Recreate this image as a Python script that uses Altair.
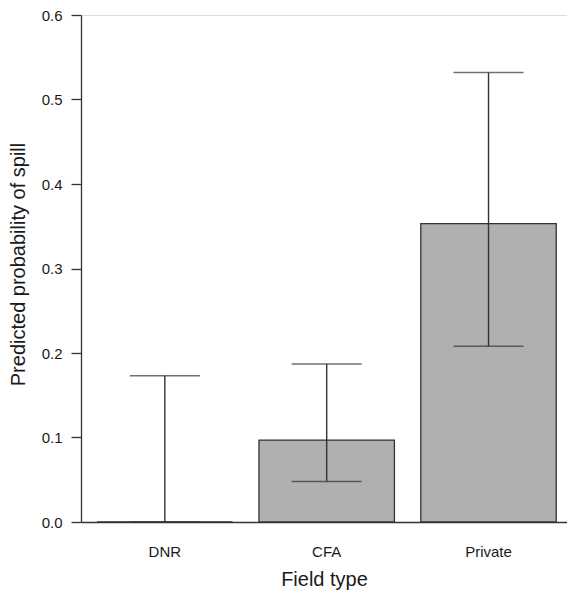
import altair as alt
import pandas as pd

categories = ["DNR", "CFA", "Private"]
estimates = [0.0, 0.097, 0.353]
lower = [0.0, 0.048, 0.208]
upper = [0.173, 0.187, 0.532]
y_ticks = [0.0, 0.1, 0.2, 0.3, 0.4, 0.5, 0.6]

df = pd.DataFrame({"type": categories, "est": estimates, "lo": lower, "hi": upper})

FONT = "Liberation Sans"
INK = "#333333"
TXT = "#1a1a1a"

xscale = alt.Scale(domain=categories, paddingInner=0.163, paddingOuter=0.083, align=0.6)
yscale = alt.Scale(domain=[0, 0.6], nice=False, zero=True)

xenc = alt.X("type:N", scale=xscale, sort=categories,
             axis=alt.Axis(title="Field type", labelAngle=0, ticks=False,
                           labelPadding=22, titlePadding=10, labelFontSize=15,
                           titleFontSize=20, titleFontWeight="normal",
                           domainColor=INK, domainWidth=1.3,
                           labelColor=TXT, titleColor=TXT,
                           labelFont=FONT, titleFont=FONT))

yaxis = alt.Axis(title="Predicted probability of spill", values=y_ticks, format=".1f",
                 grid=False, tickSize=10, tickColor=INK, tickWidth=1.3,
                 domainColor=INK, domainWidth=1.3, labelPadding=9,
                 labelFontSize=15, titleFontSize=20, titleFontWeight="normal",
                 titleX=-53, titleY=249, titleAngle=270, titleBaseline="bottom",
                 titleAlign="center",
                 labelColor=TXT, titleColor=TXT,
                 labelFont=FONT, titleFont=FONT)

base = alt.Chart(df)

bars = base.mark_bar(fill="#b0b0b0", stroke=INK, strokeWidth=1.3).encode(
    x=xenc,
    y=alt.Y("est:Q", scale=yscale, axis=yaxis),
)

rules = base.mark_rule(color=INK, strokeWidth=1.4).encode(
    x=alt.X("type:N", scale=xscale, sort=categories),
    y=alt.Y("lo:Q", scale=yscale),
    y2="hi:Q",
)

caps_hi = base.mark_tick(color=INK, thickness=1.4, size=70, orient="horizontal").encode(
    x=alt.X("type:N", scale=xscale, sort=categories),
    y=alt.Y("hi:Q", scale=yscale),
)
caps_lo = base.mark_tick(color=INK, thickness=1.4, size=70, orient="horizontal").encode(
    x=alt.X("type:N", scale=xscale, sort=categories),
    y=alt.Y("lo:Q", scale=yscale),
)

chart = alt.layer(bars, rules, caps_hi, caps_lo).properties(
    width=486, height=507,
    autosize=alt.AutoSizeParams(type="none"),
    padding={"left": 73, "top": 7, "right": 0, "bottom": 70},
).configure_view(stroke=None).configure(background="white")

chart.save("out.html", embed_options={"renderer": "svg", "actions": False})
